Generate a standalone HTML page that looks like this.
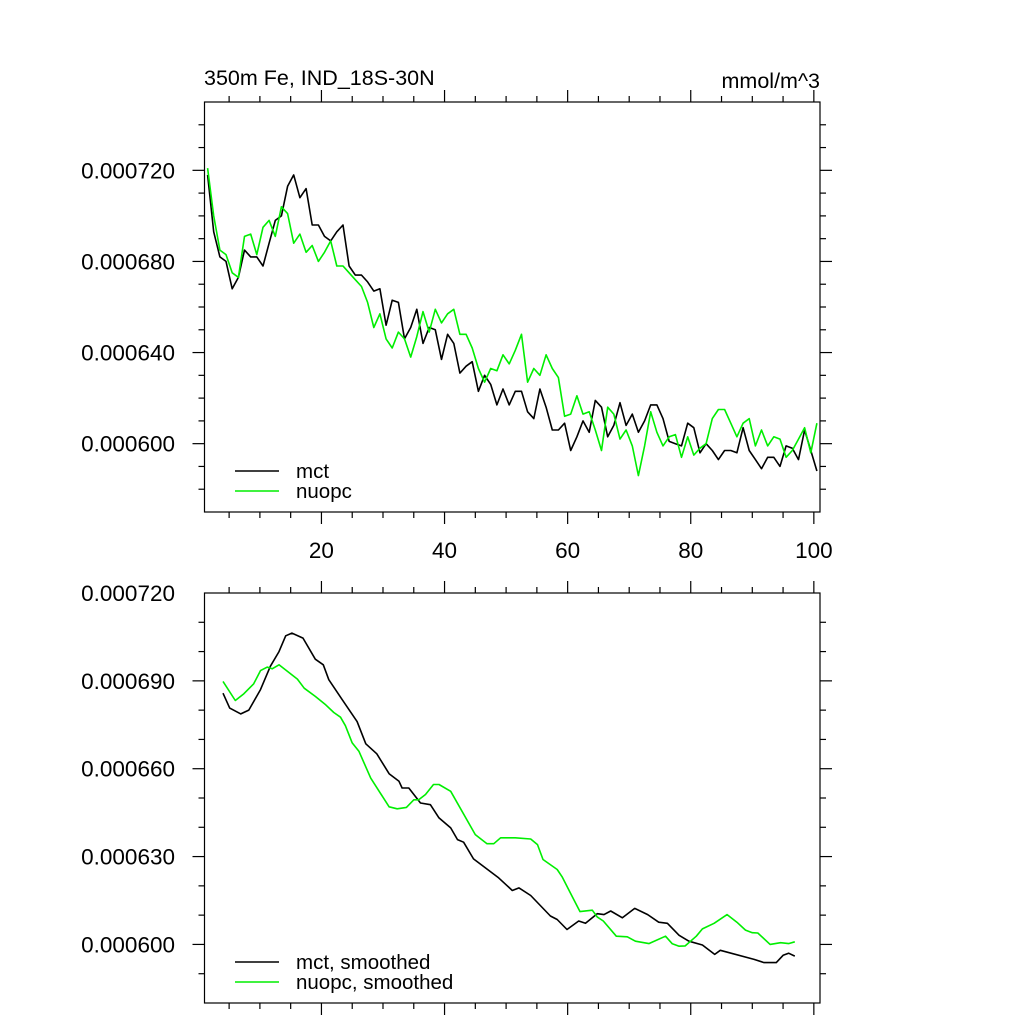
<!DOCTYPE html>
<html><head><meta charset="utf-8"><style>
html,body{margin:0;padding:0;background:#fff;}
svg{display:block;font-family:"Liberation Sans",Arial,sans-serif;}
</style></head><body>
<svg id="chart" width="1024" height="1024" viewBox="0 0 1024 1024"></svg>
<script>
// ---------- data ----------
const years = Array.from({length:100},(_,k)=>k+1.5);
const mctRaw = [718,693,682,680,668,673,685,682,682,678,688,698,700,713,718,708,712,696,696,691,689,693,696,678,674,674,671,667,668,652,663,662,646,651,659,644,651,650,637,648,644,631,634,636,623,630,626,617,624,617,623,623,614,611,624,616,606,606,609,597,603,610,605,619,616,603,608,618,608,613,605,610,617,617,611,601,600,599,609,607,596,600,597,593,597,597,596,607,597,593,589,594,594,590,599,598,593,606,597,588];
const nuopcRaw = [721,700,685,683,675,673,691,692,683,695,698,691,704,701,688,692,684,687,680,684,689,678,678,675,672,669,662,651,657,646,642,649,646,638,647,658,649,659,653,657,659,648,648,642,633,627,633,632,639,635,641,648,627,633,630,639,633,629,612,613,621,613,614,606,597,616,613,602,606,599,586,599,614,605,599,603,604,594,603,595,598,600,611,615,615,609,603,609,611,599,606,599,603,602,594,597,602,607,596,609];
const mctSmX = [4.0,5.1,6.9,8.2,10.1,11.7,13.1,14.2,15.2,17.0,19.0,20.3,21.2,23.4,25.8,27.2,29.0,31.0,32.6,33.1,34.2,36.1,37.7,39.1,41.0,42.1,43.1,44.7,48.8,51.0,52.1,54.0,57.2,58.3,59.9,61.8,62.9,64.8,65.9,67.0,68.9,70.9,73.0,74.8,76.2,78.1,79.7,81.9,83.9,84.8,90.3,91.9,93.9,95.0,95.9,96.9];
const mctSmV = [685.8,680.7,678.7,680,687,695,700,705.4,706.3,704.6,697.4,695.5,690.4,683.5,676.1,668.5,665.1,658.3,655.7,653.4,653.4,648.3,647.7,643.2,639.8,635.8,634.9,629.2,622.7,618.4,619.3,616.7,609.7,608.5,605.1,608,607.2,610.5,610.2,611.4,609.1,612.3,610.2,607.6,607.2,603.1,601.1,599.8,596.6,598,594.9,593.8,593.8,596.3,597,596];
const nuopcSmX = [4.0,6.0,7.4,9.0,10.1,11.2,12.0,13.1,16.1,17.2,19.0,20.7,22.0,23.1,23.9,25.0,26.1,28.0,31.0,32.3,33.8,35.0,35.8,36.9,38.2,39.1,41.0,45.0,46.9,48.0,49.1,51.5,54.0,55.1,56.0,58.3,59.1,60.7,62.0,64.0,64.8,65.8,67.9,69.7,71.0,73.2,75.9,77.0,78.1,79.1,80.9,81.9,83.8,85.9,87.5,88.9,90.0,90.9,92.9,94.6,95.9,96.9];
const nuopcSmV = [689.8,683.3,685.6,689,693.5,694.7,694.1,695.5,690.6,687.5,684.7,681.8,679.2,677.6,674.7,668.8,665.9,656.8,647,646.3,646.8,649.4,649.4,651.2,654.6,654.6,652.3,637.5,634.4,634.4,636.4,636.4,636,634.1,629,625.6,623.1,616.5,611.2,611.7,609.4,608,602.8,602.6,601.1,600.3,602.8,600.2,599.4,599.5,602.8,605.3,607.2,610.2,607.6,604.9,604,603.9,600,600.6,600.3,600.9];
const topTicks = [600,640,680,720];
const botTicks = [600,630,660,690,720];
const xTicks = [20,40,60,80,100];
// ---------- layout ----------
const NS="http://www.w3.org/2000/svg";
const svg=document.getElementById('chart');
function el(tag,attrs,parent){const e=document.createElementNS(NS,tag);for(const k in attrs)e.setAttribute(k,attrs[k]);(parent||svg).appendChild(e);return e;}
const L=204.5,R=820;
const xs=x=>L+(x-1)*(R-L)/100;
function mkY(t,b,vmin,vmax){return v=>b-(v-vmin)*(b-t)/(vmax-vmin);}
function panel(name,t0,b0,vmin,vmax,ticks,showX){
  const ys=mkY(t0,b0,vmin,vmax);
  const g=el('g',{});
  
  
  const ax=el('g',{stroke:'#000','stroke-width':1.2},g);
  
  
  el('rect',{x:L,y:t0,width:R-L,height:b0-t0,fill:'none'},ax);
  for(let x=5;x<=100;x+=5){
    const maj=x%20===0,len=maj?12:6,px=xs(x);
    el('line',{x1:px,y1:b0,x2:px,y2:b0+len},ax);
    el('line',{x1:px,y1:t0,x2:px,y2:t0-len},ax);
  }
  for(let v=vmin+10;v<vmax;v+=10){
    const maj=ticks.indexOf(v)>=0,len=maj?12:6,py=ys(v);
    el('line',{x1:L,y1:py,x2:L-len,y2:py},ax);
    el('line',{x1:R,y1:py,x2:R+len,y2:py},ax);
  }
  ticks.forEach(v=>{
    const t=el('text',{x:175,y:ys(v)+8,'text-anchor':'end','font-size':22.5},g);
    
    
    t.textContent='0.000'+v;
  });
  if(showX) xTicks.forEach(x=>{
    const t=el('text',{x:xs(x),y:b0+46,'text-anchor':'middle','font-size':22.5},g);
    
    
    t.textContent=x;
  });
  return {g,ys};
}
function line(g,name,xarr,varr,ys,color){
  const pts=xarr.map((x,i)=>xs(x).toFixed(1)+','+ys(varr[i]).toFixed(1)).join(' ');
  const p=el('polyline',{points:pts,fill:'none',stroke:color,'stroke-width':1.6,'stroke-linejoin':'round'},g);
  
  
}
function legend(g,y,labels,colors){
  labels.forEach((lab,i)=>{
    const le=el('g',{},g);
    
    
    el('line',{x1:235,y1:y+i*20,x2:279,y2:y+i*20,stroke:colors[i],'stroke-width':1.6},le);
    const t=el('text',{x:296,y:y+i*20+7,'font-size':20.5},le);
    t.textContent=lab;
  });
}
const topP=panel('top-panel',102,512,570,750,topTicks,true);
line(topP.g,'mct-line',years,mctRaw,topP.ys,'#000');
line(topP.g,'nuopc-line',years,nuopcRaw,topP.ys,'#00ee00');
legend(topP.g,471,['mct','nuopc'],['#000','#00ee00']);
const botP=panel('bottom-panel',593,1003,580,720,botTicks,false);
line(botP.g,'mct-smoothed-line',mctSmX,mctSmV,botP.ys,'#000');
line(botP.g,'nuopc-smoothed-line',nuopcSmX,nuopcSmV,botP.ys,'#00ee00');
legend(botP.g,962,['mct, smoothed','nuopc, smoothed'],['#000','#00ee00']);
const t1=el('text',{x:204,y:85,'font-size':21.5});


t1.textContent='350m Fe, IND_18S-30N';
const t2=el('text',{x:820,y:88,'font-size':21.5,'text-anchor':'end'});


t2.textContent='mmol/m^3';
</script>
</body></html>
